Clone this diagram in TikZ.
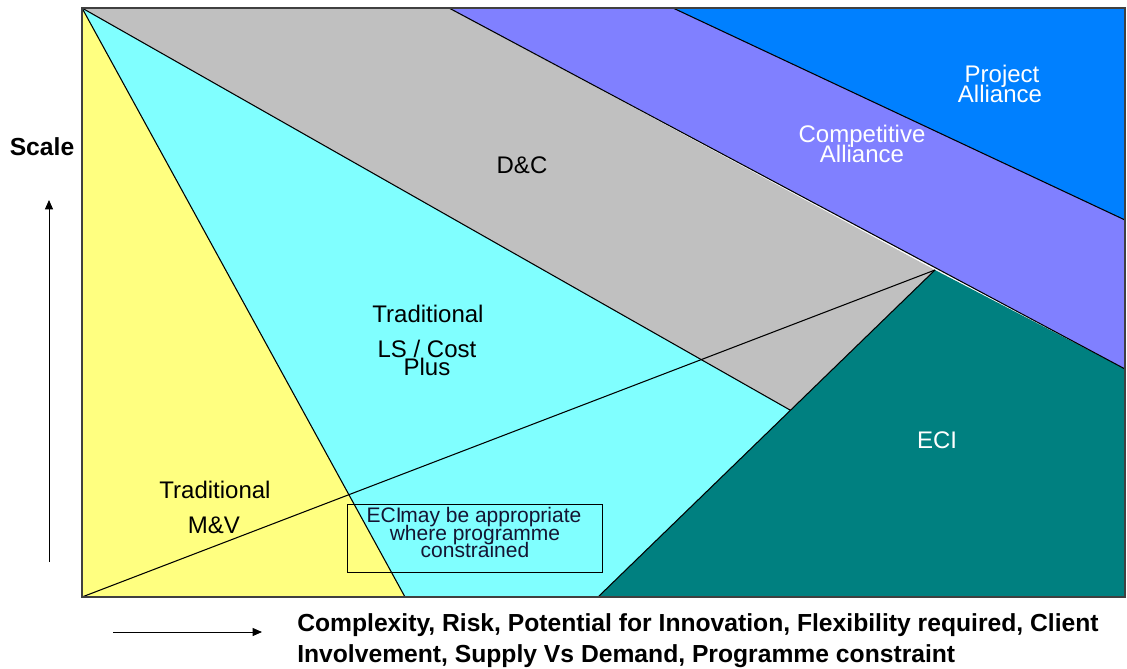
\documentclass[tikz,border=0pt]{standalone}
\usepackage{fontspec}
\setmainfont{Liberation Sans}
\usetikzlibrary{arrows.meta}
\definecolor{yellowzone}{RGB}{255,255,128}
\definecolor{cyanzone}{RGB}{128,255,255}
\definecolor{grayzone}{RGB}{192,192,192}
\definecolor{purplezone}{RGB}{128,128,255}
\definecolor{bluezone}{RGB}{0,128,255}
\definecolor{tealzone}{RGB}{0,128,128}
\definecolor{navytext}{RGB}{20,20,50}

\begin{document}
\begin{tikzpicture}[x=0.75pt, y=-0.75pt,
    edge/.style={black, line width=0.8pt},
    zonetext/.style={anchor=base, inner sep=0pt, font=\fontsize{18}{18}\selectfont},
    notetext/.style={anchor=base, inner sep=0pt, text=navytext, font=\fontsize{15.75}{15.75}\selectfont},
    axistext/.style={anchor=base west, inner sep=0pt, font=\fontsize{18.5}{18.5}\selectfont\bfseries},
    axisarrow/.style={black, line width=0.7pt, -{Triangle[length=7pt, width=6pt]}}]
    \useasboundingbox (0,0) rectangle (1127,668);

    % corners and meeting points of the zones
    \coordinate (O) at (82,597);
    \coordinate (TL) at (82,8);
    \coordinate (TR) at (1125,8);
    \coordinate (BR) at (1125,597);
    \coordinate (pg) at (449,8);
    \coordinate (pb) at (673,8);
    \coordinate (rb) at (1125,220);
    \coordinate (rp) at (1125,369);
    \coordinate (apex) at (935,270);
    \coordinate (gc) at (790,410);
    \coordinate (yb) at (405,597);
    \coordinate (tb) at (598,597);

    \fill[yellowzone] (TL) -- (yb) -- (O) -- cycle;
    \fill[cyanzone] (TL) -- (gc) -- (tb) -- (yb) -- cycle;
    \fill[grayzone] (TL) -- (pg) -- (apex) -- (gc) -- cycle;
    \fill[purplezone] (pg) -- (pb) -- (rb) -- (rp) -- cycle;
    \fill[bluezone] (pb) -- (TR) -- (rb) -- cycle;
    \fill[tealzone] (tb) -- (apex) -- (rp) -- (BR) -- cycle;

    \draw[edge] (TL) -- (yb);
    \draw[edge] (TL) -- (gc);
    \draw[edge] (tb) -- (apex);
    \draw[edge] (pg) -- (rp);
    \draw[edge] (pb) -- (rb);
    \draw[edge] (O) -- (apex);
    \draw[black!75, line width=1.1pt] (TL) rectangle (BR);

    \node[zonetext] (dc) at (522,173) {D\&C};
    \node[zonetext] (lstrad) at (428,322) {Traditional};
    \node[zonetext] (lscost) at (427,357) {LS / Cost};
    \node[zonetext] (lsplus) at (427,375) {Plus};
    \node[zonetext] (mvtrad) at (215,498) {Traditional};
    \node[zonetext] (mv) at (214,533) {M\&V};
    \node[zonetext, white] (eci) at (937,448) {ECI};
    \node[zonetext, white] (compa) at (862,142) {Competitive};
    \node[zonetext, white] (compb) at (862,162) {Alliance};
    \node[zonetext, white] (proja) at (1002,82) {Project};
    \node[zonetext, white] (projb) at (1000,102) {Alliance};

    \draw[black, line width=0.7pt] (347,504) rectangle (602,572);
    \node[notetext] (notea) at (474,522) {ECI\kern-1pt may be appropriate};
    \node[notetext] (noteb) at (475,540) {where programme};
    \node[notetext] (notec) at (475,557) {constrained};

    \node[axistext, anchor=base] (scale) at (42,155) {Scale};
    \coordinate (upfrom) at (49,562);
    \coordinate (upto) at (49,200);
    \draw[axisarrow] (upfrom) -- (upto);
    \coordinate (rightfrom) at (113,632);
    \coordinate (rightto) at (262,632);
    \draw[axisarrow] (rightfrom) -- (rightto);
    \node[axistext] (drivera) at (297,631) {Complexity, Risk, Potential for Innovation, Flexibility required, Client};
    \node[axistext] (driverb) at (297,662) {Involvement, Supply Vs Demand, Programme constraint};
\end{tikzpicture}
\end{document}
